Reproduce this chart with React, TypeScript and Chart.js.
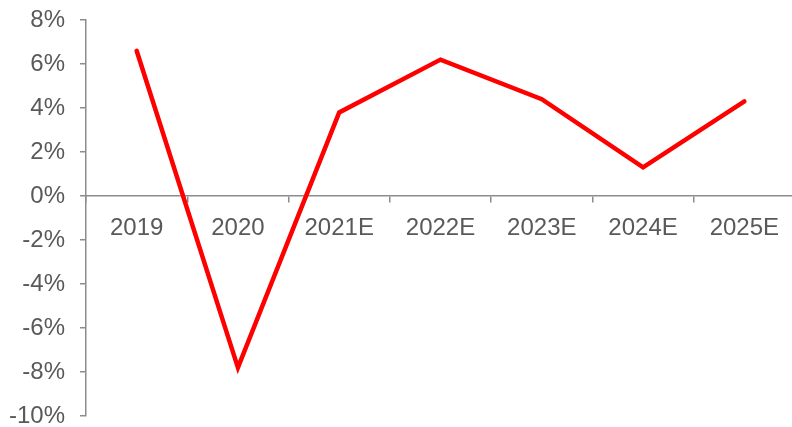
import React, { useEffect, useRef } from "react";
import { Chart, registerables } from "chart.js";

Chart.register(...registerables);

const categories = ["2019", "2020", "2021E", "2022E", "2023E", "2024E", "2025E"];
const growth = [6.6, -7.8, 3.8, 6.2, 4.4, 1.3, 4.3];
const yMin = -10;
const yMax = 8;
const yStep = 2;

export default function App() {
  const ref = useRef<HTMLCanvasElement>(null);

  useEffect(() => {
    document.body.style.margin = "0";
    document.body.style.overflow = "hidden";
    const canvas = ref.current!;
    const axisColor = "#8c8c8c";
    const textColor = "#595959";
    const font = { family: "'Liberation Sans', Arial, sans-serif", size: 24 };
    const chart = new Chart(canvas, {
      type: "line",
      data: {
        labels: categories,
        datasets: [
          {
            data: growth,
            borderColor: "#ff0000",
            backgroundColor: "#ff0000",
            borderWidth: 4.5,
            pointRadius: 0,
            tension: 0,
            borderCapStyle: "round",
          },
        ],
      },
      options: {
        animation: false,
        responsive: false,
        maintainAspectRatio: false,
        layout: { padding: { top: 20, bottom: 11, left: 0, right: 5 } },
        plugins: { legend: { display: false }, tooltip: { enabled: false } },
        scales: {
          x: {
            position: { y: 0 },
            offset: true,
            afterFit: (s: any) => {
              s.paddingLeft = 0;
              s.paddingRight = 0;
            },
            grid: {
              offset: true,
              drawOnChartArea: false,
              drawTicks: true,
              tickLength: 6,
              color: axisColor,
              lineWidth: 1.5,
            },
            border: { color: axisColor, width: 1.5 },
            ticks: { color: textColor, font, padding: 12, maxRotation: 0, autoSkip: false },
          },
          y: {
            min: yMin,
            max: yMax,
            afterFit: (s: any) => {
              s.width = 86;
              s.paddingTop = 0;
              s.paddingBottom = 0;
            },
            grid: {
              drawOnChartArea: false,
              tickLength: 6,
              color: axisColor,
              lineWidth: 1.5,
            },
            border: { color: axisColor, width: 1.5 },
            ticks: {
              stepSize: yStep,
              color: textColor,
              font,
              padding: 15,
              callback: (v: any) => `${v}%`,
            },
          },
        },
      },
    });
    return () => chart.destroy();
  }, []);

  return (
    <div style={{ position: "fixed", left: 0, top: 0, width: 800, height: 427 }}>
      <canvas ref={ref} width={800} height={427} style={{ width: 800, height: 427 }} />
    </div>
  );
}
